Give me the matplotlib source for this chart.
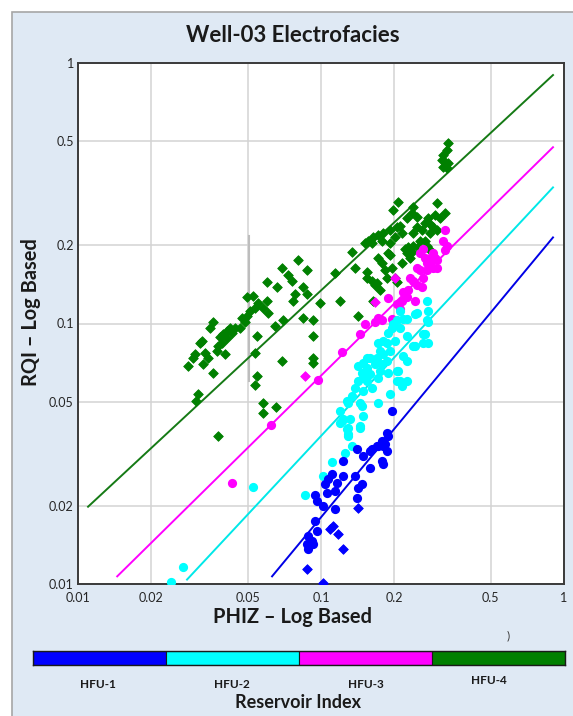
import matplotlib
matplotlib.use("Agg")
import matplotlib.pyplot as plt
from matplotlib.patches import Rectangle
from matplotlib.ticker import NullLocator, FixedLocator, FixedFormatter

plt.rcParams['font.family'] = ['Lato', 'DejaVu Sans']

# ---------------- data ----------------
tick_vals = [0.01, 0.02, 0.05, 0.1, 0.2, 0.5, 1]
tick_labels = ['0.01', '0.02', '0.05', '0.1', '0.2', '0.5', '1']

classes = ['HFU-1', 'HFU-2', 'HFU-3', 'HFU-4']
class_colors = ['#0000ff', '#00ffff', '#ff00ff', '#008000']
line_colors = ['#0000e6', '#00e8e8', '#ff00ff', '#157a15']

# fitted trend lines (PHIZ endpoints, RQI endpoints)
line_hfu1_x = [0.0629, 0.901]
line_hfu1_y = [0.0107, 0.214]
line_hfu2_x = [0.0281, 0.901]
line_hfu2_y = [0.0104, 0.333]
line_hfu3_x = [0.0145, 0.901]
line_hfu3_y = [0.0107, 0.475]
line_hfu4_x = [0.0110, 0.901]
line_hfu4_y = [0.0198, 0.899]

# HFU-4 (green diamonds)
hfu4_phiz = [0.0691, 0.0731, 0.0760, 0.0600, 0.0659, 0.0782, 0.0767, 0.0496, 0.0525, 0.0550,
             0.0600, 0.0577, 0.0535, 0.0510, 0.0605, 0.0496, 0.0473, 0.0487, 0.0464, 0.0443,
             0.0422, 0.0430, 0.0410, 0.0395, 0.0384, 0.0410, 0.0391, 0.0377, 0.0359, 0.0349,
             0.0324, 0.0318, 0.0373, 0.0403, 0.0333, 0.0343, 0.0303, 0.0297, 0.0284, 0.0327,
             0.0359, 0.0545, 0.0647, 0.0698, 0.0535, 0.0691, 0.0545, 0.0535, 0.0312, 0.0306,
             0.0577, 0.0653, 0.0577, 0.0377, 0.0804, 0.0876, 0.0843, 0.0876, 0.0990, 0.0843,
             0.0927, 0.120, 0.114, 0.134, 0.138, 0.155, 0.170, 0.175, 0.142, 0.164,
             0.0927, 0.0927, 0.0927, 0.333, 0.330, 0.318, 0.315, 0.324, 0.333, 0.318,
             0.330, 0.207, 0.300, 0.198, 0.239, 0.237, 0.248, 0.226, 0.324, 0.309,
             0.276, 0.281, 0.289, 0.300, 0.248, 0.260, 0.206, 0.192, 0.180, 0.172,
             0.164, 0.156, 0.152, 0.162, 0.178, 0.215, 0.239, 0.281, 0.255, 0.239,
             0.228, 0.222, 0.237, 0.251, 0.192, 0.172, 0.192, 0.178, 0.196, 0.215,
             0.183, 0.155, 0.202, 0.226, 0.232, 0.281, 0.273, 0.189, 0.162, 0.167,
             0.187, 0.206, 0.268, 0.295, 0.211, 0.202, 0.268]
hfu4_rqi = [0.164, 0.153, 0.146, 0.144, 0.138, 0.130, 0.122, 0.126, 0.128, 0.120,
            0.122, 0.115, 0.115, 0.112, 0.110, 0.107, 0.105, 0.101, 0.0965, 0.0957,
            0.0965, 0.0923, 0.0940, 0.0915, 0.0884, 0.0876, 0.0845, 0.0823, 0.101, 0.0957,
            0.0860, 0.0838, 0.0787, 0.0767, 0.0773, 0.0734, 0.0767, 0.0740, 0.0689, 0.0702,
            0.0648, 0.0899, 0.0980, 0.103, 0.0773, 0.0721, 0.0631, 0.0583, 0.0538, 0.0506,
            0.0497, 0.0480, 0.0455, 0.0371, 0.176, 0.160, 0.138, 0.130, 0.120, 0.105,
            0.103, 0.122, 0.156, 0.1875, 0.164, 0.150, 0.143, 0.134, 0.107, 0.122,
            0.0899, 0.0734, 0.0708, 0.492, 0.463, 0.443, 0.424, 0.416, 0.412, 0.398,
            0.394, 0.292, 0.289, 0.272, 0.279, 0.265, 0.256, 0.253, 0.265, 0.253,
            0.253, 0.242, 0.234, 0.228, 0.234, 0.228, 0.234, 0.228, 0.222, 0.218,
            0.214, 0.208, 0.203, 0.203, 0.208, 0.222, 0.222, 0.222, 0.208, 0.199,
            0.196, 0.194, 0.1875, 0.196, 0.203, 0.178, 0.183, 0.170, 0.164, 0.170,
            0.160, 0.157, 0.150, 0.186, 0.179, 0.191, 0.199, 0.186, 0.146, 0.140,
            0.150, 0.144, 0.244, 0.261, 0.237, 0.214, 0.208]

# HFU-3 (magenta circles)
hfu3_phiz = [0.263, 0.255, 0.268, 0.281, 0.289, 0.273, 0.255, 0.248, 0.263, 0.260,
             0.248, 0.239, 0.232, 0.228, 0.2175, 0.226, 0.215, 0.244, 0.206, 0.211,
             0.189, 0.196, 0.172, 0.178, 0.152, 0.145, 0.289, 0.295, 0.324, 0.318,
             0.330, 0.281, 0.300, 0.273, 0.300, 0.324, 0.167, 0.0972, 0.122, 0.0623,
             0.0430]
hfu3_rqi = [0.194, 0.186, 0.178, 0.172, 0.164, 0.160, 0.160, 0.164, 0.149, 0.138,
            0.140, 0.146, 0.149, 0.134, 0.132, 0.126, 0.122, 0.122, 0.119, 0.114,
            0.125, 0.1045, 0.105, 0.103, 0.100, 0.0915, 0.186, 0.178, 0.228, 0.208,
            0.199, 0.179, 0.175, 0.170, 0.164, 0.191, 0.101, 0.0609, 0.0780, 0.0409,
            0.0244]
# HFU-3 (magenta diamonds)
hfu3d_phiz = [0.0859, 0.202, 0.167]
hfu3d_rqi = [0.0631, 0.149, 0.121]

# HFU-2 (cyan circles)
hfu2_phiz = [0.198, 0.211, 0.189, 0.226, 0.268, 0.239, 0.172, 0.187, 0.202, 0.192,
             0.180, 0.170, 0.159, 0.149, 0.142, 0.155, 0.167, 0.178, 0.187, 0.2175,
             0.1475, 0.159, 0.175, 0.189, 0.206, 0.211, 0.172, 0.155, 0.142, 0.138,
             0.162, 0.149, 0.134, 0.145, 0.129, 0.172, 0.1475, 0.192, 0.120, 0.122,
             0.132, 0.149, 0.128, 0.129, 0.145, 0.134, 0.244, 0.263, 0.215, 0.206,
             0.273, 0.248, 0.276, 0.211, 0.226, 0.206, 0.196, 0.273, 0.263, 0.276,
             0.276, 0.244, 0.2175, 0.180, 0.175, 0.155, 0.149, 0.128, 0.123, 0.226,
             0.226, 0.207, 0.120, 0.129, 0.145, 0.129, 0.1255, 0.111, 0.102, 0.0859,
             0.0525, 0.0270, 0.0241]
hfu2_rqi = [0.100, 0.0965, 0.0923, 0.0899, 0.0915, 0.0823, 0.0838, 0.0845, 0.0860, 0.0787,
            0.0767, 0.0740, 0.0734, 0.0708, 0.0689, 0.0677, 0.0702, 0.0702, 0.0721, 0.0753,
            0.0648, 0.0642, 0.0660, 0.0648, 0.0660, 0.0604, 0.0620, 0.0604, 0.0604, 0.0567,
            0.0567, 0.0552, 0.0529, 0.0497, 0.0497, 0.0497, 0.0484, 0.0538, 0.0463, 0.0424,
            0.0431, 0.0443, 0.0395, 0.0378, 0.0398, 0.0339, 0.0823, 0.0838, 0.0578, 0.0604,
            0.122, 0.110, 0.112, 0.112, 0.1045, 0.103, 0.0957, 0.103, 0.0915, 0.101,
            0.0845, 0.109, 0.1045, 0.0860, 0.0787, 0.0740, 0.0620, 0.0506, 0.0431, 0.0721,
            0.0604, 0.0660, 0.0416, 0.0398, 0.0405, 0.0371, 0.0319, 0.0295, 0.0260, 0.0220,
            0.0236, 0.0116, 0.0102]

# HFU-1 (blue circles)
hfu1_phiz = [0.187, 0.189, 0.178, 0.172, 0.180, 0.187, 0.159, 0.149, 0.141, 0.159,
             0.178, 0.180, 0.123, 0.138, 0.111, 0.107, 0.116, 0.123, 0.104, 0.1475,
             0.142, 0.114, 0.106, 0.0945, 0.0963, 0.141, 0.102, 0.114, 0.0945, 0.0963,
             0.0884, 0.0918, 0.0876, 0.0927, 0.0884, 0.196, 0.162, 0.183, 0.170]
hfu1_rqi = [0.0381, 0.0371, 0.0355, 0.0339, 0.0339, 0.0325, 0.0325, 0.0311, 0.0330, 0.0279,
            0.0297, 0.0289, 0.0297, 0.0260, 0.0265, 0.0254, 0.0244, 0.0260, 0.0242, 0.0242,
            0.0234, 0.0228, 0.0224, 0.0220, 0.0209, 0.0214, 0.0199, 0.0194, 0.0175, 0.0160,
            0.0153, 0.0146, 0.0142, 0.0142, 0.0136, 0.0463, 0.0330, 0.0346, 0.0339]
# HFU-1 (blue diamonds)
hfu1d_phiz = [0.142, 0.112, 0.109, 0.1175, 0.123, 0.0876, 0.102]
hfu1d_rqi = [0.0196, 0.0167, 0.0163, 0.0156, 0.0136, 0.0114, 0.0101]

# ---------------- figure ----------------
W, H = 573, 716
fig = plt.figure(figsize=(W / 100, H / 100), dpi=100)
fig.patch.set_facecolor('white')
bg = Rectangle((12 / W, -0.01), 1.0, 1.01 - 12 / H, transform=fig.transFigure,
               facecolor='#dfe9f4', edgecolor='#a6a6a6', lw=1.2, zorder=-10)
fig.patches.append(bg)

ax = fig.add_axes([78 / W, 1 - 584 / H, (564 - 78) / W, (584 - 63) / H])
ax.set_xscale('log')
ax.set_yscale('log')
ax.set_xlim(0.01, 1)
ax.set_ylim(0.01, 1)
ax.set_facecolor('white')
ax.xaxis.set_major_locator(FixedLocator(tick_vals))
ax.xaxis.set_major_formatter(FixedFormatter(tick_labels))
ax.yaxis.set_major_locator(FixedLocator(tick_vals))
ax.yaxis.set_major_formatter(FixedFormatter(tick_labels))
ax.xaxis.set_minor_locator(NullLocator())
ax.yaxis.set_minor_locator(NullLocator())
ax.tick_params(length=0, labelsize=9, colors='#262626')
ax.tick_params(axis='x', pad=6)
ax.tick_params(axis='y', pad=3)
ax.grid(True, color='#d3d3d3', lw=1.1, zorder=0)
ax.set_axisbelow(True)
for sp in ax.spines.values():
    sp.set_color('#3a3a3a')
    sp.set_linewidth(1.4)

# darker gridline artefact near PHIZ = 0.05
ax.plot([0.0505, 0.0505], [0.216, 0.0604], color='#bdbdbd', lw=1.5, zorder=1)

# trend lines
for lx, ly, c in [(line_hfu4_x, line_hfu4_y, line_colors[3]),
                  (line_hfu3_x, line_hfu3_y, line_colors[2]),
                  (line_hfu2_x, line_hfu2_y, line_colors[1]),
                  (line_hfu1_x, line_hfu1_y, line_colors[0])]:
    ax.plot(lx, ly, color=c, lw=1.4, zorder=2)

ms_c = 44
ms_d = 24
ax.scatter(hfu4_phiz, hfu4_rqi, marker='D', s=ms_d, color=class_colors[3], lw=0.6,
           edgecolors=class_colors[3], zorder=3)
ax.scatter(hfu3_phiz, hfu3_rqi, marker='o', s=ms_c, color=class_colors[2], lw=0, zorder=4)
ax.scatter(hfu3d_phiz, hfu3d_rqi, marker='D', s=ms_d, color=class_colors[2], lw=0.6,
           edgecolors=class_colors[2], zorder=4)
ax.scatter(hfu2_phiz, hfu2_rqi, marker='o', s=ms_c, color=class_colors[1], lw=0, zorder=5)
ax.scatter(hfu1_phiz, hfu1_rqi, marker='o', s=ms_c, color=class_colors[0], lw=0, zorder=6)
ax.scatter(hfu1d_phiz, hfu1d_rqi, marker='D', s=ms_d, color=class_colors[0], lw=0.6,
           edgecolors=class_colors[0], zorder=6)

# titles & labels
fig.text(292.5 / W, 1 - 35 / H, 'Well-03 Electrofacies', ha='center', va='center',
         fontsize=16, fontweight='bold', color='#1a1a1a')
fig.text(292.5 / W, 1 - 617 / H, 'PHIZ \u2013 Log Based', ha='center', va='center',
         fontsize=14.4, fontweight='bold', color='#1a1a1a')
fig.text(31 / W, 1 - 312 / H, 'RQI \u2013 Log Based', ha='center', va='center',
         rotation=90, fontsize=14.4, fontweight='bold', color='#1a1a1a')
fig.text(508 / W, 1 - 636 / H, ')', ha='center', va='center', fontsize=8.5, color='#333333')

# colour bar legend
cax = fig.add_axes([33 / W, 1 - 665 / H, 532 / W, 14 / H])
for i, c in enumerate(class_colors):
    cax.barh(0, 1, left=i, height=1, color=c, edgecolor='#1a1a1a', lw=0.8)
cax.set_xlim(0, len(class_colors))
cax.set_ylim(-0.5, 0.5)
cax.set_xticks([])
cax.set_yticks([])
for sp in cax.spines.values():
    sp.set_color('#1a1a1a')
    sp.set_linewidth(1.0)

label_x = [98, 232, 366, 489]
label_y = [684, 684, 684, 681]
for name, lxp, lyp in zip(classes, label_x, label_y):
    fig.text(lxp / W, 1 - lyp / H, name, ha='center', va='center', fontsize=8.5,
             fontweight='bold', color='#1a1a1a')
fig.text(298 / W, 1 - 703 / H, 'Reservoir Index', ha='center', va='center',
         fontsize=13, fontweight='bold', color='#1a1a1a')

fig.savefig('out.png', dpi=100, facecolor=fig.get_facecolor())
